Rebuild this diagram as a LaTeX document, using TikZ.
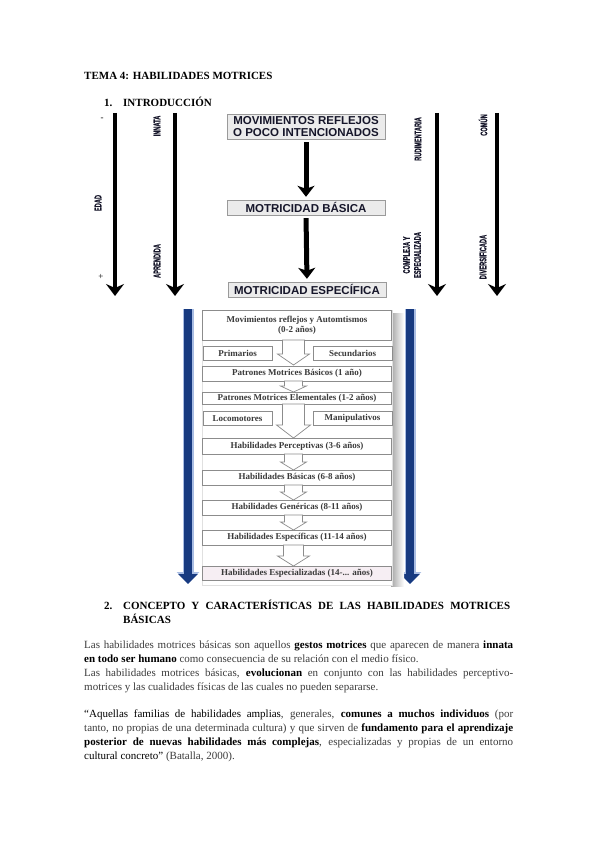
\documentclass[tikz,border=0pt]{standalone}
\usepackage{fontspec}
\setmainfont{Liberation Serif}
\newfontfamily\boxfont{Liberation Sans}
\newfontfamily\narrowfont[FakeStretch=0.6,BoldFeatures={FakeBold=0.6}]{Liberation Sans}
\usetikzlibrary{arrows.meta}

\definecolor{boxgray}{HTML}{EBEBEB}
\definecolor{boxline}{HTML}{9A9A9A}
\definecolor{inkdark}{HTML}{16162A}
\definecolor{navy}{HTML}{173A80}
\definecolor{navylight}{HTML}{A9BDE3}
\definecolor{paneltext}{HTML}{3A3A3A}
\definecolor{panelline}{HTML}{8C8C8C}
\definecolor{bodytext}{HTML}{3C3C3C}
\definecolor{lastrow}{HTML}{F6EEF3}

\begin{document}
\begin{tikzpicture}[x=1pt,y=-1pt]
\tikzstyle{heading} = [anchor=base west, inner sep=0pt, font=\bfseries\fontsize{11}{13}\selectfont, text=black]
\tikzstyle{body line} = [anchor=base west, inner sep=0pt, font=\fontsize{11}{14}\selectfont, text=bodytext]
\tikzstyle{level box} = [draw=boxline, fill=boxgray, minimum width=158pt, inner sep=0pt, align=center, font=\boxfont\bfseries\fontsize{11.5}{12.5}\selectfont, text=inkdark]
\tikzstyle{axis arrow} = [draw=black, line width=4.5pt, -{Stealth[length=12pt,width=18pt,inset=4pt]}]
\tikzstyle{step arrow} = [draw=black, line width=5pt, shorten <=3pt, shorten >=3pt, -{Stealth[length=11pt,width=17pt,inset=3pt]}]
\tikzstyle{axis label} = [rotate=90, inner sep=0pt, align=center, font=\narrowfont\bfseries\fontsize{9.5}{11}\selectfont, text=inkdark]
\tikzstyle{axis sign} = [inner sep=0pt, font=\fontsize{9}{10}\selectfont]
\tikzstyle{blue halo} = [draw=navylight, line width=11pt, -{Triangle[length=12pt,width=22pt]}]
\tikzstyle{blue bar} = [draw=navy, line width=8pt, -{Triangle[length=10pt,width=19pt]}]
\tikzstyle{stage row} = [draw=panelline, fill=white, minimum width=189pt, inner sep=0pt, align=center, font=\bfseries\fontsize{9}{10}\selectfont, text=paneltext]
\tikzstyle{side box} = [draw=panelline, fill=white, minimum height=14pt, inner sep=0pt, font=\bfseries\fontsize{9}{10}\selectfont, text=paneltext]
\tikzstyle{hollow arrow} = [draw=panelline, fill=white, line width=0.7pt, line join=miter]

\useasboundingbox (0,0) rectangle (599,848);
\fill[white] (0,0) rectangle (599,848);

% titles
\node[heading] (h_1) at (84,80) {TEMA 4: HABILIDADES MOTRICES};
\node[heading] (h_2) at (104,107) {1.};
\node[heading] (h_3) at (123,107) {INTRODUCCIÓN};

% axes of the first scheme
\coordinate (c_1) at (115,113);
\coordinate (c_2) at (115,296);
\coordinate (c_3) at (175,113);
\coordinate (c_4) at (175,296);
\coordinate (c_5) at (437,113);
\coordinate (c_6) at (437,296);
\coordinate (c_7) at (497,113);
\coordinate (c_8) at (497,296);
\path[axis arrow] (c_1) -- (c_2);
\path[axis arrow] (c_3) -- (c_4);
\path[axis arrow] (c_5) -- (c_6);
\path[axis arrow] (c_7) -- (c_8);
\node[axis sign] (s_1) at (102,119) {-};
\node[axis sign] (s_2) at (101,277) {+};
\node[axis label] (l_1) at (98,203) {EDAD};
\node[axis label] (l_2) at (157,126) {INNATA};
\node[axis label] (l_3) at (157,261) {APRENDIDA};
\node[axis label] (l_4) at (418,139) {RUDIMENTARIA};
\node[axis label] (l_5) at (412,255) {COMPLEJA Y\\ESPECIALIZADA};
\node[axis label] (l_6) at (483,125) {COMÚN};
\node[axis label] (l_7) at (483,257) {DIVERSIFICADA};

% levels
\node[level box, minimum height=25pt] (b_1) at (306,126.5) {MOVIMIENTOS REFLEJOS\\O POCO INTENCIONADOS};
\node[level box, minimum height=15pt] (b_2) at (306,207.5) {MOTRICIDAD BÁSICA};
\node[level box, minimum height=15pt] (b_3) at (307,289.5) {MOTRICIDAD ESPECÍFICA};
\path[step arrow] (b_1.south) -- (b_2.north);
\path[step arrow] (b_2.south) -- (b_3.north);

% second scheme: bars and panel
\coordinate (c_9) at (188,309);
\coordinate (c_10) at (188,584);
\coordinate (c_11) at (410,309);
\coordinate (c_12) at (410,584);
\path[blue halo] (c_9) -- (c_10);
\path[blue halo] (c_11) -- (c_12);
\path[blue bar] (c_9) -- (c_10);
\path[blue bar] (c_11) -- (c_12);
\shade[left color=black!35, right color=white] (391,313) rectangle (404,586);
\fill[white, draw=black!12] (202,310) rectangle (392,585);

% stages
\node[stage row, minimum height=30pt] (r_1) at (297,325) {Movimientos reflejos y Automtismos\\(0-2 años)};
\node[side box, minimum width=69pt] (p_1) at (237.5,353) {Primarios};
\node[side box, minimum width=79pt] (p_2) at (352.5,353) {Secundarios};
\node[stage row, minimum height=15pt] (r_2) at (297,373.5) {Patrones Motrices Básicos (1 año)};
\node[stage row, minimum height=12pt] (r_3) at (297,398) {Patrones Motrices Elementales (1-2 años)};
\node[side box, minimum width=69pt] (p_3) at (237.5,418.5) {Locomotores};
\node[side box, minimum width=79pt] (p_4) at (352.5,418.5) {Manipulativos};
\node[stage row, minimum height=16pt] (r_4) at (297,446) {Habilidades Perceptivas (3-6 años)};
\node[stage row, minimum height=15pt] (r_5) at (297,477.5) {Habilidades Básicas (6-8 años)};
\node[stage row, minimum height=15pt] (r_6) at (297,507.5) {Habilidades Genéricas (8-11 años)};
\node[stage row, minimum height=15pt] (r_7) at (297,537.5) {Habilidades Específicas (11-14 años)};
\node[stage row, minimum height=14pt, fill=lastrow] (r_8) at (297,573) {Habilidades Especializadas (14-... años)};

% hollow arrows between stages
\path[hollow arrow] (282.5,340) -- (304.5,340) -- (304.5,354) -- (309.5,354) -- (293.5,365) -- (277.5,354) -- (282.5,354) -- cycle;
\path[hollow arrow] (284.5,381) -- (302.5,381) -- (302.5,386) -- (306.5,386) -- (293.5,392) -- (280.5,386) -- (284.5,386) -- cycle;
\path[hollow arrow] (282.5,404) -- (304.5,404) -- (304.5,425) -- (310.5,425) -- (293.5,438) -- (276.5,425) -- (282.5,425) -- cycle;
\path[hollow arrow] (284.5,454) -- (302.5,454) -- (302.5,462) -- (306.5,462) -- (293.5,470) -- (280.5,462) -- (284.5,462) -- cycle;
\path[hollow arrow] (284.5,485) -- (302.5,485) -- (302.5,492) -- (306.5,492) -- (293.5,500) -- (280.5,492) -- (284.5,492) -- cycle;
\path[hollow arrow] (284.5,515) -- (302.5,515) -- (302.5,522) -- (306.5,522) -- (293.5,530) -- (280.5,522) -- (284.5,522) -- cycle;
\path[hollow arrow] (283.5,545) -- (303.5,545) -- (303.5,556) -- (309.5,556) -- (293.5,566) -- (277.5,556) -- (283.5,556) -- cycle;

% section 2
\node[heading] (h_4) at (104,609) {2.};
\node[heading] (h_5) at (123,609) {\makebox[387pt][s]{CONCEPTO Y CARACTERÍSTICAS DE LAS HABILIDADES MOTRICES}};
\node[heading] (h_6) at (123,623) {BÁSICAS};

\node[body line] (t_1) at (84,648) {\makebox[429pt][s]{Las habilidades motrices básicas son aquellos \textcolor{black}{\bfseries gestos motrices} que aparecen de manera \textcolor{black}{\bfseries innata}}};
\node[body line] (t_2) at (84,662) {\textcolor{black}{\bfseries en todo ser humano} como consecuencia de su relación con el medio físico.};
\node[body line] (t_3) at (84,676) {\makebox[429pt][s]{Las habilidades motrices básicas, \textcolor{black}{\bfseries evolucionan} en conjunto con las habilidades perceptivo-}};
\node[body line] (t_4) at (84,690) {motrices y las cualidades físicas de las cuales no pueden separarse.};

\node[body line] (t_5) at (84,717) {\makebox[429pt][s]{\textcolor{black}{“Aquellas familias de habilidades amplias}, generales, \textcolor{black}{\bfseries comunes a muchos individuos} (por}};
\node[body line] (t_6) at (84,731) {\makebox[429pt][s]{tanto, no propias de una determinada cultura) y que sirven de \textcolor{black}{\bfseries fundamento para el aprendizaje}}};
\node[body line] (t_7) at (84,745) {\makebox[429pt][s]{\textcolor{black}{\bfseries posterior de nuevas habilidades más complejas}, especializadas y propias de un entorno}};
\node[body line] (t_8) at (84,759) {\textcolor{black}{cultural concreto”} (Batalla, 2000).};
\end{tikzpicture}
\end{document}
